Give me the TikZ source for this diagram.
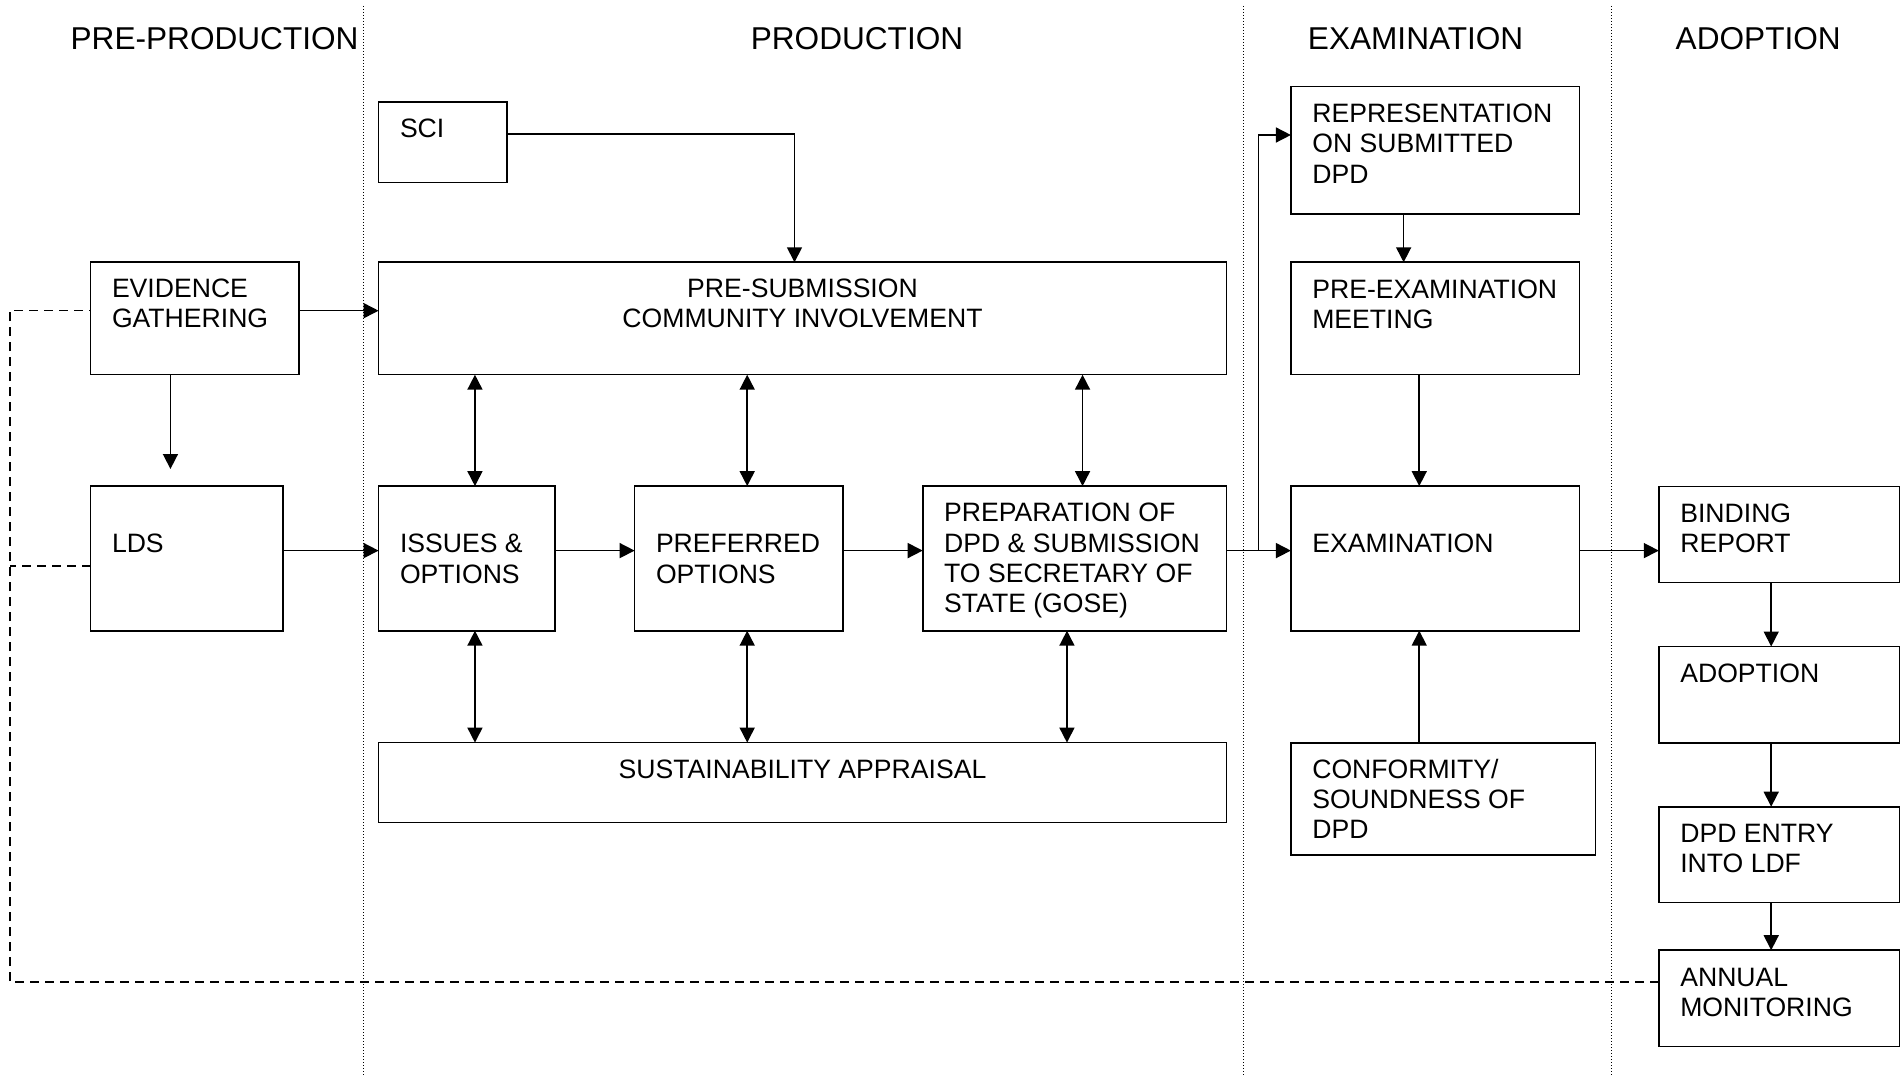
\documentclass[tikz,border=0pt]{standalone}
\usepackage{fontspec}
\setmainfont{Liberation Sans}
\usetikzlibrary{arrows.meta,calc}
\newcommand\lns[1]{\begin{tabular}[t]{@{}l@{}}#1\end{tabular}}
\newcommand\clns[1]{\begin{tabular}[t]{@{}c@{}}#1\end{tabular}}
\begin{document}
\begin{tikzpicture}[x=0.5pt,y=-0.5pt,
  box/.style={draw, line width=0.8pt, inner sep=0pt, outer sep=0pt, anchor=north west},
  txt/.style={inner sep=0pt, anchor=base west, font=\fontsize{13.3}{15.15}\selectfont},
  ctxt/.style={inner sep=0pt, anchor=base, font=\fontsize{13.3}{15.15}\selectfont},
  head/.style={inner sep=0pt, anchor=base, font=\fontsize{15.8}{18}\selectfont},
  conn/.style={line width=0.8pt},
  arr/.style={conn, -{Triangle[length=7.5pt,width=7.5pt]}},
  darr/.style={conn, {Triangle[length=7.5pt,width=7.5pt]}-{Triangle[length=7.5pt,width=7.5pt]}},
  dashline/.style={line width=0.8pt, dash pattern=on 4.5pt off 3pt},
  phase/.style={line width=0.5pt, dash pattern=on 0.5pt off 1pt}]

\fill[white] (0,0) rectangle (1902,1075);
\useasboundingbox (0,0) rectangle (1902,1075);

% phase separators
\draw[phase] (363,6) -- (363,1075);
\draw[phase] (1243,6) -- (1243,1075);
\draw[phase] (1611,6) -- (1611,1075);

% headers
\node[head] (h1) at (214.6,50) {PRE-PRODUCTION};
\node[head] (h2) at (857,50) {PRODUCTION};
\node[head] (h3) at (1415.6,50) {EXAMINATION};
\node[head] (h4) at (1758.2,50) {ADOPTION};

% boxes
\node[box, minimum width=64.25pt, minimum height=40.2pt] (sci) at (378.6,102.3) {};
\node[box, minimum width=104.05pt, minimum height=56.2pt] (eg) at (90.6,262.3) {};
\node[box, minimum width=423.9pt, minimum height=56.2pt] (ps) at (378.6,262.3) {};
\node[box, minimum width=96.2pt, minimum height=72.3pt] (lds) at (90.6,486.1) {};
\node[box, minimum width=88.15pt, minimum height=72.3pt] (io) at (378.6,486.1) {};
\node[box, minimum width=104.2pt, minimum height=72.3pt] (po) at (634.6,486.1) {};
\node[box, minimum width=151.85pt, minimum height=72.3pt] (prep) at (922.7,486.1) {};
\node[box, minimum width=423.9pt, minimum height=40pt] (sa) at (378.6,742.6) {};
\node[box, minimum width=144.35pt, minimum height=63.8pt] (rep) at (1290.9,86.7) {};
\node[box, minimum width=144.35pt, minimum height=56.2pt] (pre) at (1290.9,262.3) {};
\node[box, minimum width=144.35pt, minimum height=72.3pt] (exam) at (1290.9,486.1) {};
\node[box, minimum width=152.2pt, minimum height=56.05pt] (conf) at (1290.9,742.9) {};
\node[box, minimum width=120.4pt, minimum height=48pt] (br) at (1658.8,486.3) {};
\node[box, minimum width=120.4pt, minimum height=48.25pt] (ad) at (1658.8,646.5) {};
\node[box, minimum width=120.4pt, minimum height=47.85pt] (dpd) at (1658.8,806.7) {};
\node[box, minimum width=120.4pt, minimum height=48.2pt] (am) at (1658.8,950.2) {};

% texts
\node[txt] (sciT) at (399.6,137.7) {SCI};
\node[txt] (egT) at (111.6,297.7) {\lns{EVIDENCE\\GATHERING}};
\node[ctxt] (psT) at (802.5,297.7) {\clns{PRE-SUBMISSION\\COMMUNITY INVOLVEMENT}};
\node[txt] (ldsT) at (111.6,552.8) {LDS};
\node[txt] (ioT) at (399.6,552.8) {\lns{ISSUES \&\\OPTIONS}};
\node[txt] (poT) at (655.6,552.8) {\lns{PREFERRED\\OPTIONS}};
\node[txt] (prepT) at (943.8,521.7) {\lns{PREPARATION OF\\DPD \& SUBMISSION\\TO SECRETARY OF\\STATE (GOSE)}};
\node[ctxt] (saT) at (802.5,778) {SUSTAINABILITY APPRAISAL};
\node[txt] (repT) at (1311.9,122.7) {\lns{REPRESENTATION\\ON SUBMITTED\\DPD}};
\node[txt] (preT) at (1311.9,298.3) {\lns{PRE-EXAMINATION\\MEETING}};
\node[txt] (examT) at (1311.9,552.8) {EXAMINATION};
\node[txt] (confT) at (1311.9,778) {\lns{CONFORMITY/\\SOUNDNESS OF\\DPD}};
\node[txt] (brT) at (1679.9,522.5) {\lns{BINDING\\REPORT}};
\node[txt] (adT) at (1679.9,682.4) {ADOPTION};
\node[txt] (dpdT) at (1679.9,842.6) {\lns{DPD ENTRY\\INTO LDF}};
\node[txt] (amT) at (1679.9,986) {\lns{ANNUAL\\MONITORING}};

% connectors
\draw[arr] ([yshift=4.1pt]sci.east) -| ([xshift=-4pt]ps.north);
\draw[arr] ([yshift=3.9pt]eg.east) -- ([yshift=3.9pt]eg.east -| ps.west);
\draw[arr, shorten >=8.55pt] ([xshift=-12.1pt]eg.south) -- ([xshift=-12.1pt]eg.south |- lds.north);
\draw[arr] ([yshift=3.9pt]lds.east) -- ([yshift=3.9pt]lds.east -| io.west);
\draw[arr] ([yshift=3.9pt]io.east) -- ([yshift=3.9pt]io.east -| po.west);
\draw[arr] ([yshift=3.9pt]po.east) -- ([yshift=3.9pt]po.east -| prep.west);
\draw[arr] ([yshift=3.9pt]prep.east) -- ([yshift=3.9pt]prep.east -| exam.west);
\coordinate (fork) at ($([yshift=3.9pt]prep.east)!0.5!([yshift=3.9pt]exam.west)$);
\draw[arr] (fork) |- ([yshift=7.75pt]rep.west);

\draw[darr] ([xshift=4.1pt]io.north) -- ([xshift=4.1pt]io.north |- ps.south);
\draw[darr] ([xshift=4.2pt]po.north) -- ([xshift=4.2pt]po.north |- ps.south);
\draw[darr] ([xshift=4pt]prep.north) -- ([xshift=4pt]prep.north |- ps.south);
\draw[darr] ([xshift=4.1pt]io.south) -- ([xshift=4.1pt]io.south |- sa.north);
\draw[darr] ([xshift=4.2pt]po.south) -- ([xshift=4.2pt]po.south |- sa.north);
\draw[darr] ([xshift=-3.8pt]prep.south) -- ([xshift=-3.8pt]prep.south |- sa.north);

\draw[arr] ([xshift=-15.8pt]rep.south) -- ([xshift=-15.8pt]rep.south |- pre.north);
\draw[arr] ([xshift=-8pt]pre.south) -- ([xshift=-8pt]pre.south |- exam.north);
\draw[arr] ([xshift=-8pt]exam.south |- conf.north) -- ([xshift=-8pt]exam.south);
\draw[arr] ([yshift=3.9pt]exam.east) -- ([yshift=3.9pt]exam.east -| br.west);

\draw[arr] ([xshift=-4pt]br.south) -- ([xshift=-4pt]br.south |- ad.north);
\draw[arr] ([xshift=-4pt]ad.south) -- ([xshift=-4pt]ad.south |- dpd.north);
\draw[arr] ([xshift=-4pt]dpd.south) -- ([xshift=-4pt]dpd.south |- am.north);

% monitoring feedback (dashed)
\coordinate (dl) at (9.8,0);
\path ([yshift=3.9pt]eg.west) coordinate (egw);
\path ([yshift=-3.8pt]lds.west) coordinate (ldsw);
\draw[dashline] ([yshift=8.15pt]am.west) -| (dl |- egw) -- (egw);
\draw[dashline] (ldsw) -- (dl |- ldsw);
\end{tikzpicture}
\end{document}
